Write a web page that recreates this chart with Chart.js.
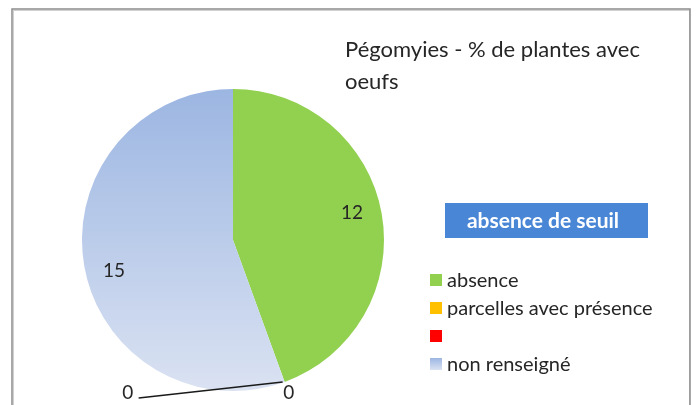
<!DOCTYPE html>
<html>
<head>
<meta charset="utf-8">
<script src="https://cdn.jsdelivr.net/npm/chart.js@4.4.1/dist/chart.umd.min.js"></script>
<style>
  html, body { margin: 0; padding: 0; background: #fff; }
  #wrap { width: 696px; height: 405px; position: relative; }
</style>
</head>
<body>
<div id="wrap"><canvas id="pie" width="696" height="405"></canvas></div>
<script>
// data
var categories = ['absence', 'parcelles avec présence', '', 'non renseigné'];
var values = [12, 0, 0, 15];
var sliceColors = ['#92d050', '#ffc000', '#ff0000', 'gradient'];
var titleLines = ['Pégomyies - % de plantes avec', 'oeufs'];
var boxText = 'absence de seuil';

var FONT = 'Lato, "Liberation Sans", sans-serif';

function blueGradient(ctx, top, bottom) {
	var g = ctx.createLinearGradient(0, top, 0, bottom);
	g.addColorStop(0, '#9cb6e2');
	g.addColorStop(1, '#dae2f2');
	return g;
}

function sliceColor(context) {
	var c = sliceColors[context.dataIndex];
	if (c !== 'gradient') return c;
	var area = context.chart.chartArea;
	if (!area) return '#b4c7e7';
	return blueGradient(context.chart.ctx, area.top, area.bottom);
}

// frame, title, blue box and legend
var decorations = {
	id: 'decorations',
	beforeDraw: function(chart) {
		var ctx = chart.ctx;
		ctx.save();
		ctx.fillStyle = '#fff';
		ctx.fillRect(0, 0, chart.width, chart.height);
		ctx.strokeStyle = '#d0d0d0';
		ctx.lineWidth = 1;
		ctx.strokeRect(13.5, 10.5, 676, 420);
		ctx.strokeStyle = '#8c8c8c';
		ctx.lineWidth = 1.5;
		ctx.strokeRect(12, 9, 678, 420);
		ctx.restore();
	},
	afterDraw: function(chart) {
		var ctx = chart.ctx;
		ctx.save();
		ctx.fillStyle = '#262626';
		ctx.font = '22px ' + FONT;
		ctx.textBaseline = 'middle';
		ctx.textAlign = 'left';
		titleLines.forEach(function(t, i) {
			ctx.fillText(t, 345, 50 + i * 32);
		});

		ctx.fillStyle = '#4a86d6';
		ctx.fillRect(445, 203, 203, 35);
		ctx.fillStyle = '#fff';
		ctx.font = 'bold 21px ' + FONT;
		ctx.textAlign = 'center';
		ctx.fillText(boxText, 543, 221);

		ctx.textAlign = 'left';
		ctx.font = '20px ' + FONT;
		categories.forEach(function(label, i) {
			var y = 280 + i * 28;
			if (sliceColors[i] === 'gradient') {
				ctx.fillStyle = blueGradient(ctx, y - 6, y + 6);
			} else {
				ctx.fillStyle = sliceColors[i];
			}
			ctx.fillRect(430, y - 6, 12, 12);
			ctx.fillStyle = '#262626';
			ctx.fillText(label, 447, y + 1);
		});
		ctx.restore();
	}
};

// value labels on the slices
var sliceLabels = {
	id: 'sliceLabels',
	afterDatasetsDraw: function(chart) {
		var ctx = chart.ctx;
		var arcs = chart.getDatasetMeta(0).data;
		ctx.save();
		ctx.font = '19px ' + FONT;
		ctx.fillStyle = '#262626';
		ctx.textAlign = 'center';
		ctx.textBaseline = 'middle';
		var zeroCount = 0;
		arcs.forEach(function(arc, i) {
			var p = arc.getProps(['x', 'y', 'startAngle', 'endAngle', 'outerRadius'], true);
			if (values[i] > 0) {
				var mid = (p.startAngle + p.endAngle) / 2;
				var r = p.outerRadius * 0.8;
				ctx.fillText(String(values[i]), p.x + Math.cos(mid) * r, p.y + Math.sin(mid) * r + (i === 3 ? 10 : -6));
			} else {
				var ex = p.x + Math.cos(p.startAngle) * p.outerRadius;
				var ey = p.y + Math.sin(p.startAngle) * p.outerRadius;
				if (zeroCount === 0) {
					ctx.fillText('0', ex + 4, ey + 11);
				} else {
					ctx.strokeStyle = '#1a1a1a';
					ctx.lineWidth = 1.5;
					ctx.beginPath();
					ctx.moveTo(ex - 2, ey);
					ctx.lineTo(ex - 146, ey + 16);
					ctx.stroke();
					ctx.fillText('0', ex - 157, ey + 11);
				}
				zeroCount++;
			}
		});
		ctx.restore();
	}
};

new Chart(document.getElementById('pie').getContext('2d'), {
	type: 'pie',
	data: {
		labels: categories,
		datasets: [{
			data: values,
			backgroundColor: sliceColor,
			borderWidth: 0,
			hoverOffset: 0
		}]
	},
	options: {
		responsive: false,
		animation: false,
		layout: { padding: { left: 82, right: 312, top: 89, bottom: 14 } },
		plugins: {
			legend: { display: false },
			tooltip: { enabled: false },
			title: { display: false }
		}
	},
	plugins: [decorations, sliceLabels]
});
</script>
</body>
</html>
